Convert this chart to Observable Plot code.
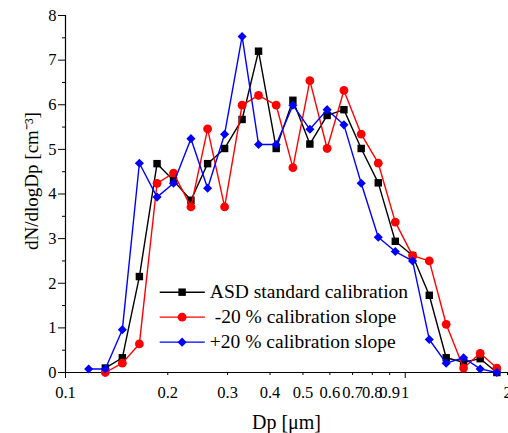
<!DOCTYPE html>
<html>
<head>
<meta charset="utf-8">
<script src="https://cdn.jsdelivr.net/npm/d3@7"></script>
<script src="https://cdn.jsdelivr.net/npm/@observablehq/plot@0.6"></script>
<style>
  html, body { margin: 0; padding: 0; background: #fff; overflow: hidden; }
  svg text { font-family: "Liberation Serif", "Times New Roman", serif; }
</style>
</head>
<body>
<div id="chart"></div>
<script>
// Particle diameters (µm)
const diameters = [0.117, 0.131, 0.147, 0.165, 0.186, 0.208, 0.234, 0.262, 0.294, 0.331, 0.370, 0.417, 0.467, 0.524, 0.589, 0.660, 0.742, 0.833, 0.935, 1.051, 1.177, 1.320, 1.485, 1.662, 1.861];
// dN/dlogDp values
const asdStandard = [null, 0.10, 0.33, 2.15, 4.68, 4.30, 3.86, 4.68, 5.02, 5.67, 7.20, 5.02, 6.10, 5.12, 5.76, 5.89, 5.02, 4.25, 2.94, 2.62, 1.73, 0.33, 0.23, 0.31, 0.00];
const minus20 = [null, 0.00, 0.21, 0.64, 4.24, 4.47, 3.71, 5.46, 3.71, 5.99, 6.21, 5.99, 4.59, 6.54, 5.02, 6.32, 5.34, 4.69, 3.37, 2.62, 2.50, 1.08, 0.10, 0.43, 0.10];
const plus20 = [0.08, 0.08, 0.96, 4.69, 3.93, 4.24, 5.24, 4.13, 5.34, 7.53, 5.11, 5.11, 5.99, 5.45, 5.89, 5.55, 4.24, 3.03, 2.71, 2.50, 0.74, 0.21, 0.33, 0.08, 0.00];

const seriesNames = ["ASD standard calibration", "\u00a0-20 % calibration slope", "+20 % calibration slope"];
const seriesColors = ["#000000", "#ff0000", "#0000ff"];
const seriesSymbols = ["square", "circle", "diamond2"];
const seriesValues = [asdStandard, minus20, plus20];

const xMajorTicks = [0.1, 1];
const xMinorTicks = [0.2, 0.3, 0.4, 0.5, 0.6, 0.7, 0.8, 0.9, 2];
const yMajorTicks = [0, 1, 2, 3, 4, 5, 6, 7, 8];
const yMinorTicks = [0.5, 1.5, 2.5, 3.5, 4.5, 5.5, 6.5, 7.5];

const xLabel = "Dp [\u03bcm]";
const yLabel = "dN/dlogDp [cm\u207b\u00b3]";

// build tidy table
const rows = [];
seriesValues.forEach((vals, s) => {
  vals.forEach((v, i) => {
    if (v !== null) rows.push({series: s, d: diameters[i], v});
  });
});

// legend layout (in data units)
const legendRowsY = [1.80, 1.24, 0.68];
const legendLineX = [0.190, 0.258];
const legendMarkX = 0.2204;
const legendTextX = 0.266;
const legend = seriesNames.map((name, s) => ({s, name, y: legendRowsY[s]}));

const sizes = [4.2, 4.4, 4.1];
const marks = [];

// axis lines
marks.push(Plot.ruleY([0], {stroke: "black", strokeWidth: 1.2}));
marks.push(Plot.ruleX([0.1], {stroke: "black", strokeWidth: 1.2}));

// axes
marks.push(Plot.axisX({ticks: xMajorTicks, tickSize: 6, tickPadding: 8, tickFormat: d => String(d), label: null, fontSize: 16.5}));
marks.push(Plot.axisX({ticks: xMinorTicks, tickSize: 3, tickPadding: 11, tickFormat: d => String(d), label: null, fontSize: 16.5}));
marks.push(Plot.axisY({ticks: yMajorTicks, tickSize: 7, tickPadding: 2, tickFormat: d => String(d), label: null, fontSize: 16.5}));
marks.push(Plot.axisY({ticks: yMinorTicks, tickSize: 3, tickFormat: () => "", label: null}));

// axis titles
marks.push(Plot.text([xLabel], {frameAnchor: "bottom", textAnchor: "middle", lineAnchor: "middle", dy: 50, fontSize: 20, text: d => d}));
marks.push(Plot.text([yLabel], {frameAnchor: "left", textAnchor: "middle", lineAnchor: "middle", dx: -34, dy: -13, rotate: -90, fontSize: 19, text: d => d}));

// series lines & markers
[0, 1, 2].forEach(s => {
  const data = rows.filter(r => r.series === s);
  marks.push(Plot.line(data, {x: "d", y: "v", stroke: seriesColors[s], strokeWidth: 1.4}));
  marks.push(Plot.dot(data, {x: "d", y: "v", fill: seriesColors[s], stroke: "none", symbol: seriesSymbols[s], r: sizes[s]}));
});

// legend
legend.forEach(L => {
  marks.push(Plot.ruleY([L], {y: "y", x1: legendLineX[0], x2: legendLineX[1], stroke: seriesColors[L.s], strokeWidth: 1.4}));
  marks.push(Plot.dot([L], {x: () => legendMarkX, y: "y", fill: seriesColors[L.s], stroke: "none", symbol: seriesSymbols[L.s], r: sizes[L.s]}));
  marks.push(Plot.text([L], {x: () => legendTextX, y: "y", text: "name", textAnchor: "start", lineAnchor: "middle", fontSize: 19.5, fill: "black"}));
});

const chart = Plot.plot({
  width: 508,
  height: 433,
  marginLeft: 65,
  marginRight: 1,
  marginTop: 15,
  marginBottom: 61,
  style: {fontFamily: "'Liberation Serif', 'Times New Roman', serif", fontSize: "16.5px", background: "white", color: "black", overflow: "visible"},
  x: {type: "log", domain: [0.1, 2]},
  y: {domain: [0, 8]},
  marks
});
document.getElementById("chart").appendChild(chart);
</script>
</body>
</html>
